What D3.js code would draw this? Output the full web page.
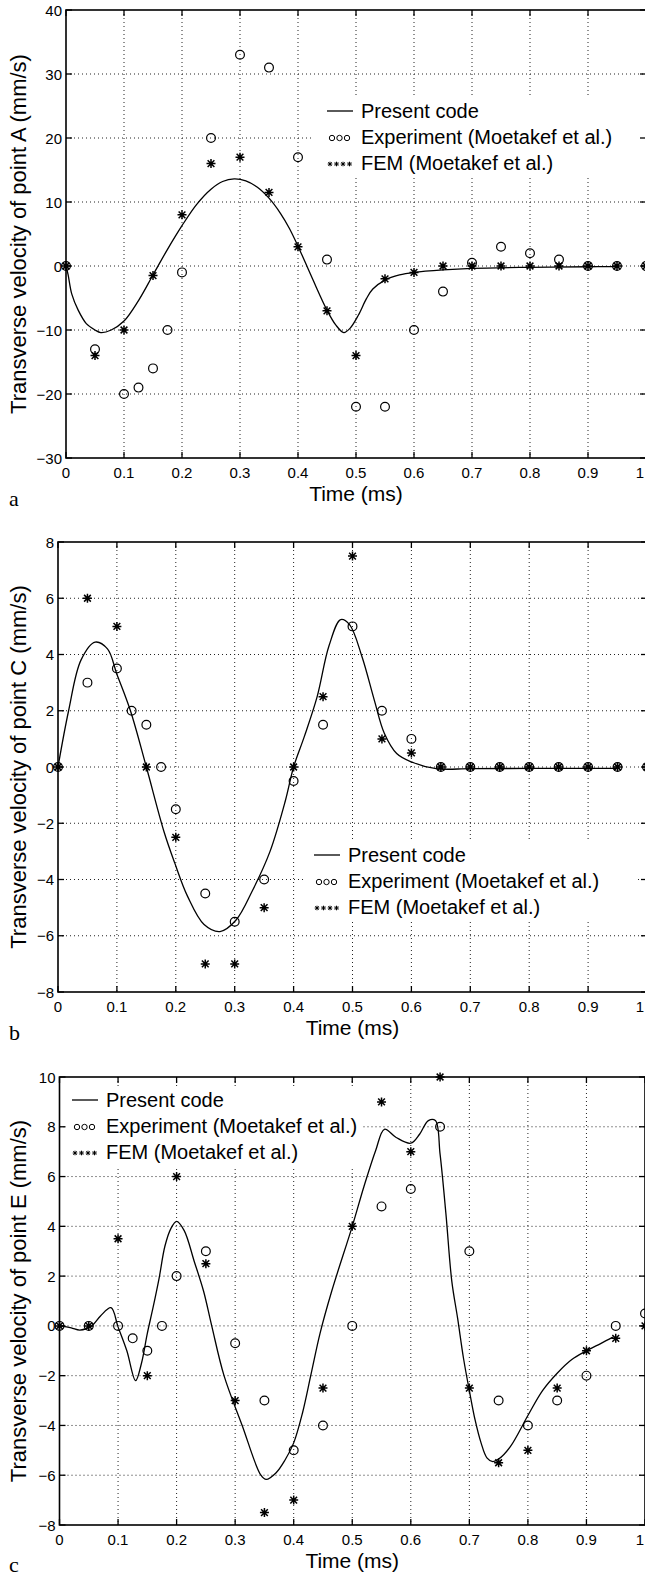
<!DOCTYPE html>
<html><head><meta charset="utf-8">
<script src="https://cdn.jsdelivr.net/npm/d3@7"></script>
<style>body{margin:0;background:#fff} svg{display:block}</style>
</head><body>
<svg id="chart" width="645" height="1576"></svg>
<script>
// ---------- data ----------
const xTicks = [0, 0.1, 0.2, 0.3, 0.4, 0.5, 0.6, 0.7, 0.8, 0.9, 1];
const xTickLabels = ["0", "0.1", "0.2", "0.3", "0.4", "0.5", "0.6", "0.7", "0.8", "0.9", "1"];
const legendLabels = ["Present code", "Experiment (Moetakef et al.)", "FEM (Moetakef et al.)"];

// Panel a : point A
const yTicksA = [-30, -20, -10, 0, 10, 20, 30, 40];
const codeA_t = [0, 0.0035, 0.01, 0.021, 0.035, 0.05, 0.06, 0.078, 0.1, 0.125, 0.15, 0.175, 0.2, 0.225, 0.25, 0.27, 0.29, 0.31, 0.33, 0.35, 0.37, 0.385, 0.4, 0.425, 0.45, 0.465, 0.479, 0.49, 0.504, 0.518, 0.529, 0.55, 0.575, 0.6, 0.65, 0.7, 0.8, 0.9, 0.95];
const codeA_v = [0, -1.3, -4.4, -6.9, -9.0, -10.0, -10.4, -10.0, -8.6, -5.4, -1.4, 2.6, 6.3, 9.6, 12.0, 13.2, 13.6, 13.3, 12.3, 10.6, 8.2, 5.9, 3.1, -2.0, -6.9, -9.2, -10.4, -9.7, -7.7, -5.1, -3.6, -2.2, -1.4, -1.0, -0.6, -0.36, -0.2, -0.12, -0.1];
const expA_t = [0, 0.05, 0.1, 0.125, 0.15, 0.175, 0.2, 0.25, 0.3, 0.35, 0.4, 0.45, 0.5, 0.55, 0.6, 0.65, 0.7, 0.75, 0.8, 0.85, 0.9, 0.95, 1.0];
const expA_v = [0, -13, -20, -19, -16, -10, -1, 20, 33, 31, 17, 1, -22, -22, -10, -4, 0.5, 3, 2, 1, 0, 0, 0];
const femA_t = [0, 0.05, 0.1, 0.15, 0.2, 0.25, 0.3, 0.35, 0.4, 0.45, 0.5, 0.55, 0.6, 0.65, 0.7, 0.75, 0.8, 0.85, 0.9, 0.95, 1.0];
const femA_v = [0, -14, -10, -1.5, 8, 16, 17, 11.5, 3, -7, -14, -2, -1, 0, 0, 0, 0, 0, 0, 0, 0];

// Panel b : point C
const yTicksB = [-8, -6, -4, -2, 0, 2, 4, 6, 8];
const codeB_t = [0, 0.018, 0.039, 0.063, 0.084, 0.1, 0.123, 0.15, 0.18, 0.198, 0.22, 0.248, 0.275, 0.302, 0.33, 0.36, 0.386, 0.4, 0.418, 0.44, 0.46, 0.48, 0.495, 0.516, 0.537, 0.554, 0.575, 0.6, 0.642, 0.7, 0.8, 0.9, 0.95];
const codeB_v = [0, 2.0, 3.8, 4.44, 4.2, 3.3, 2.0, 0.0, -2.3, -3.4, -4.6, -5.6, -5.85, -5.45, -4.4, -3.0, -1.2, 0.0, 1.07, 2.5, 4.3, 5.24, 5.06, 3.93, 2.38, 1.2, 0.48, 0.18, -0.06, -0.06, -0.05, -0.05, -0.05];
const expB_t = [0, 0.05, 0.1, 0.125, 0.15, 0.175, 0.2, 0.25, 0.3, 0.35, 0.4, 0.45, 0.5, 0.55, 0.6, 0.65, 0.7, 0.75, 0.8, 0.85, 0.9, 0.95, 1.0];
const expB_v = [0, 3, 3.5, 2, 1.5, 0, -1.5, -4.5, -5.5, -4, -0.5, 1.5, 5, 2, 1, 0, 0, 0, 0, 0, 0, 0, 0];
const femB_t = [0, 0.05, 0.1, 0.15, 0.2, 0.25, 0.3, 0.35, 0.4, 0.45, 0.5, 0.55, 0.6, 0.65, 0.7, 0.75, 0.8, 0.85, 0.9, 0.95, 1.0];
const femB_v = [0, 6, 5, 0, -2.5, -7, -7, -5, 0, 2.5, 7.5, 1, 0.5, 0, 0, 0, 0, 0, 0, 0, 0];

// Panel c : point E
const yTicksC = [-8, -6, -4, -2, 0, 2, 4, 6, 8, 10];
const codeC_t = [0, 0.02, 0.035, 0.055, 0.07, 0.088, 0.1, 0.115, 0.13, 0.14, 0.15, 0.16, 0.17, 0.18, 0.19, 0.2, 0.213, 0.23, 0.246, 0.26, 0.281, 0.312, 0.344, 0.353, 0.37, 0.385, 0.4, 0.415, 0.43, 0.445, 0.465, 0.5, 0.52, 0.54, 0.555, 0.575, 0.6, 0.615, 0.63, 0.642, 0.65, 0.66, 0.67, 0.68, 0.69, 0.7, 0.71, 0.72, 0.73, 0.74, 0.75, 0.77, 0.8, 0.825, 0.85, 0.875, 0.9, 0.925, 0.945];
const codeC_v = [0, -0.08, -0.17, 0, 0.4, 0.73, -0.04, -1.0, -2.2, -1.5, -0.3, 0.76, 1.9, 3.2, 3.9, 4.2, 3.83, 2.6, 1.4, 0, -2, -4, -6, -6.17, -5.9, -5.4, -4.7, -3.5, -1.9, -0.3, 1.4, 4.0, 5.6, 7.05, 7.9, 7.57, 7.34, 7.7, 8.25, 8.25, 6.9, 4.5, 1.8, 0.3, -1.3, -2.6, -3.8, -4.7, -5.3, -5.45, -5.35, -4.85, -3.6, -2.6, -1.9, -1.35, -1.0, -0.7, -0.45];
const expC_t = [0, 0.05, 0.1, 0.125, 0.15, 0.175, 0.2, 0.25, 0.3, 0.35, 0.4, 0.45, 0.5, 0.55, 0.6, 0.65, 0.7, 0.75, 0.8, 0.85, 0.9, 0.95, 1.0];
const expC_v = [0, 0, 0, -0.5, -1, 0, 2, 3, -0.7, -3, -5, -4, 0, 4.8, 5.5, 8, 3, -3, -4, -3, -2, 0, 0.5];
const femC_t = [0, 0.05, 0.1, 0.15, 0.2, 0.25, 0.3, 0.35, 0.4, 0.45, 0.5, 0.55, 0.6, 0.65, 0.7, 0.75, 0.8, 0.85, 0.9, 0.95, 1.0];
const femC_v = [0, 0, 3.5, -2, 6, 2.5, -3, -7.5, -7, -2.5, 4, 9, 7, 10, -2.5, -5.5, -5, -2.5, -1, -0.5, 0];

// ---------- layout ----------
const panels = [
  { letter: "a", ylabel: "Transverse velocity of point A (mm/s)", yDomain: [-30, 40], yTicks: yTicksA,
    code: [codeA_t, codeA_v], exp: [expA_t, expA_v], fem: [femA_t, femA_v],
    left: 66, right: 646, top: 10, bottom: 458, xLabelY: 501, letterY: 506,
    legend: { x: 327, y: 111, box: [313, 97, 330, 79] } },
  { letter: "b", ylabel: "Transverse velocity of point C (mm/s)", yDomain: [-8, 8], yTicks: yTicksB,
    code: [codeB_t, codeB_v], exp: [expB_t, expB_v], fem: [femB_t, femB_v],
    left: 58, right: 647, top: 542, bottom: 992, xLabelY: 1035, letterY: 1040,
    legend: { x: 314, y: 855, box: [306, 840, 332, 79] } },
  { letter: "c", ylabel: "Transverse velocity of point E (mm/s)", yDomain: [-8, 10], yTicks: yTicksC,
    code: [codeC_t, codeC_v], exp: [expC_t, expC_v], fem: [femC_t, femC_v],
    left: 59.5, right: 645, top: 1077, bottom: 1525, xLabelY: 1568, letterY: 1572,
    legend: { x: 72, y: 1100, box: [66, 1086, 296, 80] } }
];

const svg = d3.select("#chart");
const FONT = "'Liberation Sans', Arial, Helvetica, sans-serif";
const minus = s => String(s).replace("-", "\u2212");

function asterisk(g, x, y, s, w) {
  const p = `M${x - s},${y}L${x + s},${y}M${x},${y - s}L${x},${y + s}` +
    `M${x - s * 0.75},${y - s * 0.75}L${x + s * 0.75},${y + s * 0.75}M${x - s * 0.75},${y + s * 0.75}L${x + s * 0.75},${y - s * 0.75}`;
  g.append("path").attr("d", p).attr("stroke", "#000").attr("stroke-width", w).attr("fill", "none");
}

panels.forEach(P => {
  const g = svg.append("g");
  const x = d3.scaleLinear().domain([0, 1]).range([P.left, P.right]);
  const y = d3.scaleLinear().domain(P.yDomain).range([P.bottom, P.top]);

  // grid
  const grid = g.append("g").attr("stroke", "#222").attr("stroke-width", 1).attr("stroke-dasharray", "1,3");
  xTicks.slice(1, -1).forEach(t => grid.append("line").attr("x1", x(t)).attr("x2", x(t)).attr("y1", P.top).attr("y2", P.bottom));
  P.yTicks.slice(1, -1).forEach(t => grid.append("line").attr("x1", P.left).attr("x2", P.right).attr("y1", y(t)).attr("y2", y(t)));

  // legend background (hides grid)
  const L = P.legend;
  g.append("rect").attr("x", L.box[0]).attr("y", L.box[1]).attr("width", L.box[2]).attr("height", L.box[3]).attr("fill", "#fff");

  // curve
  const pts = P.code[0].map((t, i) => [t, P.code[1][i]]);
  g.append("path").datum(pts)
    .attr("d", d3.line().x(d => x(d[0])).y(d => y(d[1])).curve(d3.curveCatmullRom.alpha(0.5)))
    .attr("fill", "none").attr("stroke", "#000").attr("stroke-width", 1.3);

  // experiment circles
  P.exp[0].forEach((t, i) => g.append("circle").attr("cx", x(t)).attr("cy", y(P.exp[1][i])).attr("r", 4.4)
    .attr("fill", "none").attr("stroke", "#000").attr("stroke-width", 1.2));
  // FEM asterisks
  P.fem[0].forEach((t, i) => asterisk(g, x(t), y(P.fem[1][i]), 4.5, 1.5));

  // legend entries
  const rowGap = 26;
  g.append("line").attr("x1", L.x).attr("x2", L.x + 26).attr("y1", L.y).attr("y2", L.y).attr("stroke", "#000").attr("stroke-width", 1.3);
  [0, 1, 2].forEach(k => g.append("circle").attr("cx", L.x + 5 + k * 7.5).attr("cy", L.y + rowGap + 1).attr("r", 2.7)
    .attr("fill", "none").attr("stroke", "#000").attr("stroke-width", 1));
  [0, 1, 2, 3].forEach(k => asterisk(g, L.x + 3 + k * 6.5, L.y + 2 * rowGap + 1, 2.3, 1));
  legendLabels.forEach((s, k) => g.append("text").attr("x", L.x + 34).attr("y", L.y + k * rowGap + 7)
    .attr("font-family", FONT).attr("font-size", 20).text(s));

  // frame
  g.append("rect").attr("x", P.left).attr("y", P.top).attr("width", P.right - P.left).attr("height", P.bottom - P.top)
    .attr("fill", "none").attr("stroke", "#000").attr("stroke-width", 1.6);

  // ticks (inward) on all four sides
  const tk = g.append("g").attr("stroke", "#000").attr("stroke-width", 1.3);
  xTicks.forEach(t => {
    tk.append("line").attr("x1", x(t)).attr("x2", x(t)).attr("y1", P.bottom).attr("y2", P.bottom - 6);
    tk.append("line").attr("x1", x(t)).attr("x2", x(t)).attr("y1", P.top).attr("y2", P.top + 6);
  });
  P.yTicks.forEach(t => {
    tk.append("line").attr("x1", P.left).attr("x2", P.left + 6).attr("y1", y(t)).attr("y2", y(t));
    tk.append("line").attr("x1", P.right).attr("x2", P.right - 6).attr("y1", y(t)).attr("y2", y(t));
  });

  // tick labels (last one kept inside the page edge)
  xTicks.forEach((t, i) => {
    const last = i === xTicks.length - 1;
    g.append("text").attr("x", last ? 644 : x(t)).attr("y", P.bottom + 20)
      .attr("text-anchor", last ? "end" : "middle").attr("font-family", FONT).attr("font-size", 15).text(xTickLabels[i]);
  });
  P.yTicks.forEach(t => g.append("text").attr("x", P.left - 4).attr("y", y(t) + 5.5)
    .attr("text-anchor", "end").attr("font-family", FONT).attr("font-size", 15).text(minus(t)));

  // axis labels
  g.append("text").attr("x", (P.left + P.right) / 2).attr("y", P.xLabelY).attr("text-anchor", "middle")
    .attr("font-family", FONT).attr("font-size", 21).text("Time (ms)");
  const cy = (P.top + P.bottom) / 2;
  g.append("text").attr("transform", `translate(26,${cy}) rotate(-90)`).attr("text-anchor", "middle")
    .attr("font-family", FONT).attr("font-size", 22).text(P.ylabel);

  // panel letter
  g.append("text").attr("x", 9).attr("y", P.letterY).attr("font-family", "'Liberation Serif', 'Times New Roman', serif")
    .attr("font-size", 22).text(P.letter);
});
</script>
</body></html>
